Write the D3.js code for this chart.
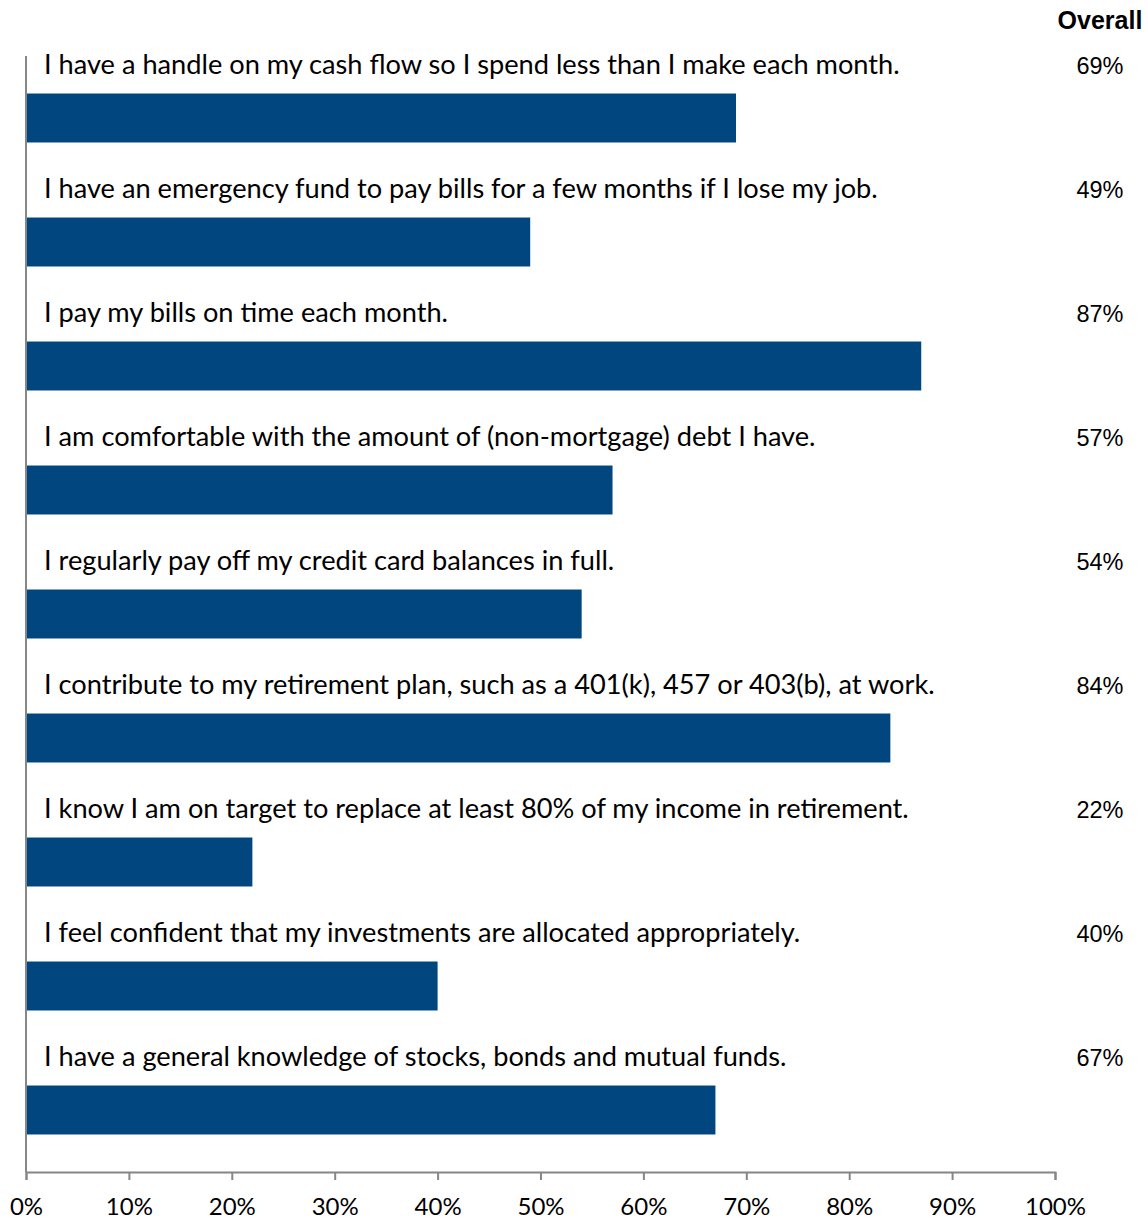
<!DOCTYPE html>
<html>
<head>
<meta charset="utf-8">
<script src="https://cdnjs.cloudflare.com/ajax/libs/d3/7.8.5/d3.min.js"></script>
<style>
  html, body { margin: 0; padding: 0; background: #fff; }
  svg { display: block; }
</style>
</head>
<body>
<svg id="chart" width="1148" height="1220"></svg>
<script>
// Survey statements, in display order
const statements = [
  "I have a handle on my cash flow so I spend less than I make each month.",
  "I have an emergency fund to pay bills for a few months if I lose my job.",
  "I pay my bills on time each month.",
  "I am comfortable with the amount of (non-mortgage) debt I have.",
  "I regularly pay off my credit card balances in full.",
  "I contribute to my retirement plan, such as a 401(k), 457 or 403(b), at work.",
  "I know I am on target to replace at least 80% of my income in retirement.",
  "I feel confident that my investments are allocated appropriately.",
  "I have a general knowledge of stocks, bonds and mutual funds."
];

// Share of respondents agreeing (percent)
const overall = [69, 49, 87, 57, 54, 84, 22, 40, 67];

// Axis ticks (percent)
const xTicks = [0, 10, 20, 30, 40, 50, 60, 70, 80, 90, 100];

const columnTitle = "Overall";

const svg = d3.select("#chart");

const plotLeft = 26, plotRight = 1055, plotTop = 56, plotBottom = 1172;

const x = d3.scaleLinear().domain([0, 100]).range([plotLeft, plotRight]);
const y = d3.scaleBand()
  .domain(statements)
  .range([plotTop, plotBottom])
  .paddingInner(0.605)
  .paddingOuter(0.3025);

const barColor = "#02467f";
const axisColor = "#868686";

// Bars
svg.append("g")
  .selectAll("rect")
  .data(statements)
  .join("rect")
  .attr("x", x(0))
  .attr("y", d => y(d))
  .attr("width", (d, i) => x(overall[i]) - x(0))
  .attr("height", y.bandwidth())
  .attr("fill", barColor);

// Statement labels above each bar
svg.append("g")
  .selectAll("text")
  .data(statements)
  .join("text")
  .attr("x", 44)
  .attr("y", d => y(d) - 20)
  .attr("font-family", "Lato, 'Open Sans', sans-serif")
  .attr("font-size", 27.2)
  .attr("fill", "#000")
  .text(d => d);

// Value column
svg.append("g")
  .selectAll("text")
  .data(statements)
  .join("text")
  .attr("x", 1100)
  .attr("y", d => y(d) - 20)
  .attr("text-anchor", "middle")
  .attr("font-family", "'Liberation Sans', Arial, sans-serif")
  .attr("font-size", 23.5)
  .attr("fill", "#000")
  .text((d, i) => overall[i] + "%");

svg.append("text")
  .attr("x", 1100)
  .attr("y", 29)
  .attr("text-anchor", "middle")
  .attr("font-family", "'Liberation Sans', Arial, sans-serif")
  .attr("font-weight", "bold")
  .attr("font-size", 25)
  .attr("fill", "#000")
  .text(columnTitle);

// Vertical category axis line
svg.append("line")
  .attr("x1", x(0)).attr("x2", x(0))
  .attr("y1", plotTop).attr("y2", plotBottom)
  .attr("stroke", axisColor)
  .attr("stroke-width", 2);

// Horizontal value axis
const xAxis = d3.axisBottom(x)
  .tickValues(xTicks)
  .tickSize(8)
  .tickPadding(18)
  .tickFormat(d => d + "%");

const gx = svg.append("g")
  .attr("transform", `translate(0,${plotBottom})`)
  .call(xAxis);

gx.select(".domain").attr("stroke", axisColor).attr("stroke-width", 2);
gx.selectAll(".tick line").attr("stroke", axisColor).attr("stroke-width", 2);
gx.selectAll(".tick text")
  .attr("font-family", "Lato, 'Open Sans', sans-serif")
  .attr("font-size", 24)
  .attr("fill", "#000");
</script>
</body>
</html>
